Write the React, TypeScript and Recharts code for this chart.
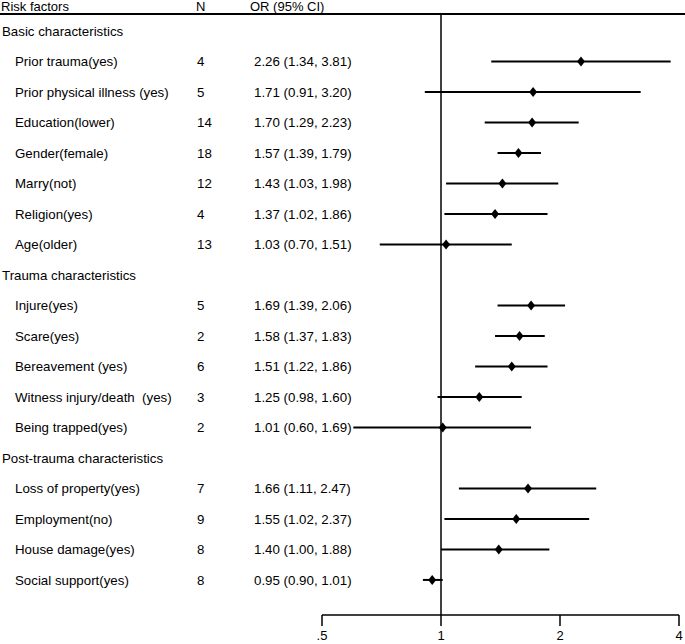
import React from "react";
import {
  ScatterChart,
  Scatter,
  XAxis,
  YAxis,
  ErrorBar,
  ReferenceLine,
} from "recharts";

const groups = [
  "Basic characteristics",
  "Trauma characteristics",
  "Post-trauma characteristics",
];

const factors = [
  "Prior trauma(yes)",
  "Prior physical illness (yes)",
  "Education(lower)",
  "Gender(female)",
  "Marry(not)",
  "Religion(yes)",
  "Age(older)",
  "Injure(yes)",
  "Scare(yes)",
  "Bereavement (yes)",
  "Witness injury/death  (yes)",
  "Being trapped(yes)",
  "Loss of property(yes)",
  "Employment(no)",
  "House damage(yes)",
  "Social support(yes)",
];
const factorGroup = [0, 0, 0, 0, 0, 0, 0, 1, 1, 1, 1, 1, 2, 2, 2, 2];
const nStudies = [4, 5, 14, 18, 12, 4, 13, 5, 2, 6, 3, 2, 7, 9, 8, 8];
const oddsRatio = [2.26, 1.71, 1.7, 1.57, 1.43, 1.37, 1.03, 1.69, 1.58, 1.51, 1.25, 1.01, 1.66, 1.55, 1.4, 0.95];
const ciLow = [1.34, 0.91, 1.29, 1.39, 1.03, 1.02, 0.7, 1.39, 1.37, 1.22, 0.98, 0.6, 1.11, 1.02, 1.0, 0.9];
const ciHigh = [3.81, 3.2, 2.23, 1.79, 1.98, 1.86, 1.51, 2.06, 1.83, 1.86, 1.6, 1.69, 2.47, 2.37, 1.88, 1.01];
const xTicks = [0.5, 1, 2, 4];

type Row = {
  row: number;
  label: string;
  header: boolean;
  n?: number;
  or?: number;
  lo?: number;
  hi?: number;
  err?: [number, number];
};

const rows: Row[] = [];
groups.forEach((g, gi) => {
  rows.push({ row: rows.length, label: g, header: true });
  factors.forEach((f, i) => {
    if (factorGroup[i] !== gi) return;
    rows.push({
      row: rows.length,
      label: f,
      header: false,
      n: nStudies[i],
      or: oddsRatio[i],
      lo: ciLow[i],
      hi: ciHigh[i],
      err: [oddsRatio[i] - ciLow[i], ciHigh[i] - oddsRatio[i]],
    });
  });
});
const points = rows.filter((r) => !r.header);

const font = "'Liberation Sans', Arial, Helvetica, sans-serif";
const fmt = (v: number) => v.toFixed(2);

const RowTick = (props: any) => {
  const { y, payload } = props;
  const r = rows[payload.value];
  if (!r) return null;
  return (
    <g fontFamily={font} fontSize={13.3} fill="#000">
      <text x={r.header ? 2 : 15} y={y} dy="0.35em" fill="#000" style={{ whiteSpace: "pre" }}>
        {r.label}
      </text>
      {!r.header && (
        <>
          <text x={197} y={y} dy="0.35em" fill="#000">
            {r.n}
          </text>
          <text x={254} y={y} dy="0.35em" fill="#000">
            {`${fmt(r.or!)} (${fmt(r.lo!)}, ${fmt(r.hi!)})`}
          </text>
        </>
      )}
    </g>
  );
};

const Diamond = (props: any) => {
  const { cx, cy } = props;
  return (
    <polygon
      points={`${cx},${cy - 5} ${cx + 4},${cy} ${cx},${cy + 5} ${cx - 4},${cy}`}
      fill="#000"
    />
  );
};

export default function App() {
  return (
    <div
      style={{
        position: "absolute",
        left: 0,
        top: 0,
        width: 685,
        height: 644,
        background: "#fff",
        fontFamily: font,
      }}
    >
      <div
        style={{
          position: "absolute",
          left: 0,
          top: 0,
          width: 685,
          height: 13,
          borderBottom: "2px solid #000",
          fontSize: 13,
          lineHeight: "13px",
        }}
      >
        <span style={{ position: "absolute", left: 1, top: 0 }}>Risk factors</span>
        <span style={{ position: "absolute", left: 196, top: 0 }}>N</span>
        <span style={{ position: "absolute", left: 250, top: 0 }}>OR (95% CI)</span>
      </div>
      <ScatterChart
        width={685}
        height={644}
        margin={{ top: 15, right: 6, bottom: 0, left: 0 }}
      >
        <XAxis
          type="number"
          dataKey="or"
          scale="log"
          domain={[0.5, 4]}
          ticks={xTicks}
          allowDataOverflow
          height={29}
          tickSize={11}
          tickMargin={5}
          stroke="#000"
          strokeWidth={1.5}
          tick={{ fill: "#000", fontSize: 13, fontFamily: font }}
          tickFormatter={(v: number) => (v === 0.5 ? ".5" : String(v))}
        />
        <YAxis
          type="number"
          dataKey="row"
          domain={[-0.525, 19.15]}
          reversed
          ticks={rows.map((r) => r.row)}
          interval={0}
          width={322}
          axisLine={false}
          tickLine={false}
          tick={<RowTick />}
        />
        <ReferenceLine x={1} stroke="#000" strokeWidth={1.5} />
        <Scatter
          data={points}
          shape={<Diamond />}
          isAnimationActive={false}
        >
          <ErrorBar
            dataKey="err"
            direction="x"
            width={0}
            stroke="#000"
            strokeWidth={2}
            isAnimationActive={false}
          />
        </Scatter>
      </ScatterChart>
    </div>
  );
}
